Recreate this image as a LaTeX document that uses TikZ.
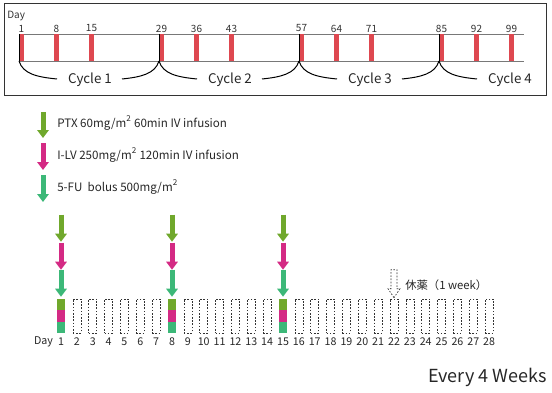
\documentclass[tikz,border=0pt]{standalone}
\usepackage{fontspec}
\setmainfont{Noto Sans CJK JP}
\usetikzlibrary{arrows.meta,positioning,calc}
\definecolor{ptxgreen}{RGB}{112,168,44}
\definecolor{ilvmagenta}{RGB}{212,42,132}
\definecolor{fugreen}{RGB}{60,184,120}
\definecolor{barred}{RGB}{222,72,80}
\definecolor{linegray}{RGB}{120,120,120}
\tikzstyle{dose}=[line width=3.75pt,-{Triangle[width=8.5pt,length=6pt]}]
\tikzstyle{toplabel}=[inner sep=0pt,font=\fontsize{7.5}{8}\selectfont,text=black!80]
\tikzstyle{cyclelabel}=[inner sep=0pt,font=\fontsize{10}{11}\selectfont,text=black!85]
\tikzstyle{legend}=[inner sep=0pt,anchor=west,font=\fontsize{8.7}{10}\selectfont,text=black!85]
\tikzstyle{daylabel}=[inner sep=0pt,font=\fontsize{8}{9}\selectfont,text=black!85]
\tikzstyle{daybox}=[rectangle,draw=black!80,dash pattern=on 1.2pt off 1.2pt,line width=0.5pt,minimum width=6pt,minimum height=25.5pt,inner sep=0pt]
\tikzstyle{dosebox}=[rectangle,minimum width=6pt,minimum height=25.5pt,inner sep=0pt]

\begin{document}
\begin{tikzpicture}[x=0.75pt,y=-0.75pt]
\useasboundingbox (0,0) rectangle (552,392);
%-------------------------start schedule code ---------------------
	\draw[black!80,line width=0.75pt] (4,4) rectangle (546,96);
	\node[toplabel,anchor=west] (topday) at (7,16) {Day};
	
	\coordinate (upperW) at (19,34);
	\coordinate (upperE) at (524,34);
	\coordinate (lowerW) at (19,61);
	\coordinate (lowerE) at (524,61);
	\draw[linegray,line width=0.6pt] (upperW) -- (upperE);
	\draw[linegray,line width=0.6pt] (lowerW) -- (lowerE);
	
	%Dosing days
	\foreach \d in {1,8,15,29,36,43,57,64,71,85,92,99}{
		\fill[barred] ({19+5*(\d-1)},34) rectangle +(5,27);
		\node[toplabel] (t\d) at ({21.5+5*(\d-1)},28.5) {\d};
	}
	
	%Cycles
	\foreach \c in {0,1,2,3}{
		\coordinate (cs\c) at ({19+140*\c},34);
		\coordinate (cb\c) at ({19+140*\c},61);
		\draw[black,line width=0.6pt] (cs\c) -- (cb\c);
		\coordinate (cl\c) at ({57+140*\c},79);
		\draw[black,line width=0.75pt] (cb\c) .. controls +(4,13) and +(-20,-2) .. (cl\c);
	}
	\foreach \c/\n in {0/1,1/2,2/3}{
		\coordinate (cr\c) at ({122+140*\c},79);
		\draw[black,line width=0.75pt] (cr\c) .. controls +(19,-2) and +(-4,13) .. (cb\n);
	}
	\foreach \c in {0,1,2,3}{
		\pgfmathtruncatemacro{\k}{\c+1}
		\node[cyclelabel] (cyc\k) at ({90+140*\c},80) {Cycle \k};
	}
%-------------------------end schedule code -----------------------
%-------------------------start legend code -----------------------
	\coordinate (ptxA) at (43,112);
	\coordinate (ptxB) at (43,138);
	\coordinate (ilvA) at (43,143);
	\coordinate (ilvB) at (43,170);
	\coordinate (fuA) at (43,175);
	\coordinate (fuB) at (43,202);
	\draw[dose,ptxgreen] (ptxA) -- (ptxB);
	\draw[dose,ilvmagenta] (ilvA) -- (ilvB);
	\draw[dose,fugreen] (fuA) -- (fuB);
	\node[legend] (ptxtext) at (57,123) {PTX 60mg/m\textsuperscript{2} 60min IV infusion};
	\node[legend] (ilvtext) at (57,155) {I-LV 250mg/m\textsuperscript{2} 120min IV infusion};
	\node[legend] (futext) at (57,187) {5-FU\ \ bolus 500mg/m\textsuperscript{2}};
%-------------------------end legend code -------------------------
%-------------------------start 4 weeks code ----------------------
	\foreach \d in {1,...,28}{
		\ifnum\d=1 \def\bx{dosebox}\else\ifnum\d=8 \def\bx{dosebox}\else\ifnum\d=15 \def\bx{dosebox}\else\def\bx{daybox}\fi\fi\fi
		\node[\bx] (box\d) at ({61+111/7*(\d-1)},316) {};
		\node[daylabel] (n\d) at ({61+111/7*(\d-1)},342) {\d};
	}
	\node[daylabel] (botday) at (43.5,342) {Day};
	
	%Dose days
	\foreach \d in {1,8,15}{
		\fill[ptxgreen] (box\d.north west) rectangle ($(box\d.north east)+(0,11.5)$);
		\fill[ilvmagenta] ($(box\d.north west)+(0,11.5)$) rectangle ($(box\d.south east)+(0,-11.5)$);
		\fill[fugreen] ($(box\d.south west)+(0,-11.5)$) rectangle (box\d.south east);
		\coordinate (pa\d) at ($(box\d.north)+(0,-84)$);
		\coordinate (pb\d) at ($(box\d.north)+(0,-57)$);
		\coordinate (la\d) at ($(box\d.north)+(0,-56)$);
		\coordinate (lb\d) at ($(box\d.north)+(0,-29)$);
		\coordinate (fa\d) at ($(box\d.north)+(0,-29)$);
		\coordinate (fb\d) at ($(box\d.north)+(0,-2)$);
		\draw[dose,ptxgreen] (pa\d) -- (pb\d);
		\draw[dose,ilvmagenta] (la\d) -- (lb\d);
		\draw[dose,fugreen] (fa\d) -- (fb\d);
	}
	
	%Rest week
	\coordinate (rest) at ($(box22.north)+(0,-1)$);
	\draw[black!80,line width=0.5pt,dash pattern=on 1.2pt off 1.2pt]
		(rest) -- +(-6,-9) -- +(-3,-9) -- +(-3,-28) -- +(3,-28) -- +(3,-9) -- +(6,-9) -- cycle;
	\node[legend,font=\fontsize{8.5}{9}\selectfont] (resttext) at (405,285) {休薬（1 week）};
	
	\node[inner sep=0pt,anchor=east,font=\fontsize{13.5}{15}\selectfont,text=black!85] (every) at (547,377) {Every 4 Weeks};
%-------------------------end 4 weeks code ------------------------
\end{tikzpicture}
\end{document}
